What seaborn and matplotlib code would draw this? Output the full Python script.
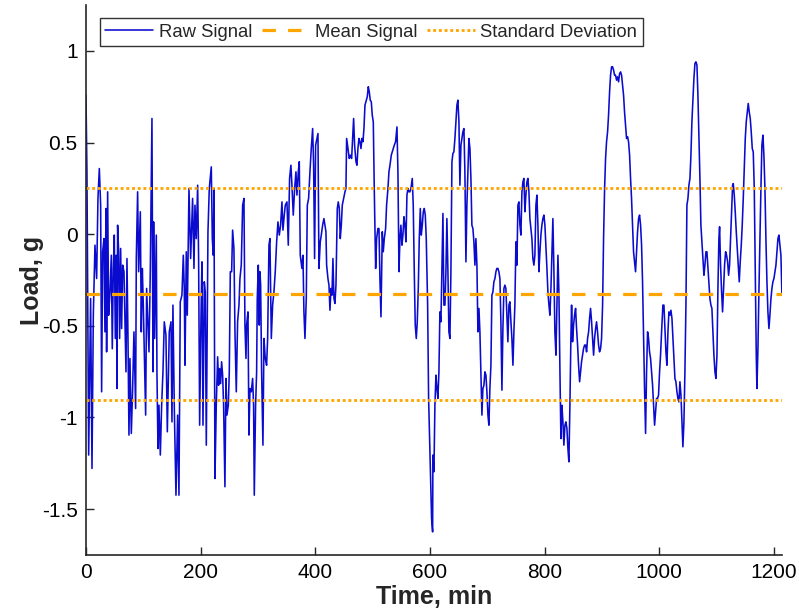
import matplotlib
matplotlib.use("Agg")
import matplotlib.pyplot as plt
import seaborn as sns
import pandas as pd

# ---- data ----
time_min = [
    0, 1.7, 4.7, 8.1, 10.5, 12.8, 15.7, 18.6, 20.9, 23.3, 25.6, 27.3, 29.1, 31.4, 33.1, 34.9, 36.0, 37.8, 39.5, 41.9,
    44.2, 45.9, 47.7, 49.4, 51.2, 52.9, 54.1, 55.2, 57.0, 58.7, 60.5, 62.2, 64.0, 66.3, 69.8, 71.5, 73.3, 75.0, 76.7, 79.1,
    81.4, 83.7, 86.6, 87.8, 90.1, 91.9, 94.8, 96.5, 98.3, 100.0, 104.1, 105.8, 108.1, 109.9, 112.2, 115.1, 116.9, 118.0, 119.8, 122.7,
    123.8, 125.6, 127.3, 129.7, 132.0, 134.3, 136.6, 139.5, 141.9, 145.3, 148.3, 150.0, 151.7, 154.1, 157.0, 159.9, 162.2, 164.5, 167.4, 169.8,
    171.5, 172.7, 175.0, 176.7, 179.7, 182.6, 186.0, 188.4, 190.1, 192.4, 194.8, 196.5, 198.3, 200.6, 202.3,
    204.1, 206.4, 208.1, 209.9, 212.8, 215.1, 218.6, 220.4, 222.1, 223.3, 225.0, 227.3, 229.7, 231.4, 233.1, 234.9, 236.6, 238.4, 240.1, 242.4,
    244.2, 245.9, 248.3, 250.0, 251.8, 254.1, 255.8, 258.1, 259.9, 262.2, 264.5, 266.9, 268.6, 270.9, 273.3, 275.6, 277.3, 279.1, 280.2, 282.6,
    284.3, 286.1, 288.4, 290.7, 292.4, 293.6, 295.9, 297.7, 298.8, 300.6, 302.3, 303.5, 304.7, 306.4, 308.7, 310.5, 312.8, 315.1, 316.9, 319.2,
    320.9, 323.3, 325.6, 327.9, 330.2, 332.6, 334.9, 337.2, 339.5, 341.9, 343.6, 345.9, 347.7, 350.6, 352.9, 355.2, 357.5, 359.3, 361.6, 364.0,
    366.3, 368.0, 370.4, 372.1, 373.8, 376.7, 378.5, 380.2, 382.0, 384.3, 386.1, 388.4, 390.7, 393.0, 395.4, 397.1, 398.8, 400.6, 402.9,
    404.7, 406.4, 408.7, 410.5, 412.8, 415.1, 416.9, 418.6, 419.8, 422.1, 423.9, 425.6, 427.4, 429.1, 430.8, 432.6, 434.3, 436.1, 438.4, 440.1,
    441.9, 443.6, 445.4, 447.1, 449.4, 451.8, 453.5, 454.7, 457.0, 459.3, 461.1, 463.4, 465.1, 466.9, 468.6, 471.0, 472.7, 474.4, 476.2, 477.9,
    479.7, 481.4, 483.2, 484.9, 486.7, 489.0, 490.7, 492.5, 494.2, 495.9, 497.7, 499.4, 501.2, 502.9, 505.3, 507.0, 509.3, 511.1, 512.8, 514.6,
    516.9, 518.6, 520.4, 522.7, 524.4, 526.8, 528.5, 530.3, 532.6, 534.3, 536.1, 537.8, 540.1, 542.5, 544.2, 546.0, 547.7, 549.4, 551.2, 552.9,
    554.7, 556.4, 558.2, 559.9, 561.6, 563.4, 565.1, 566.9, 569.2, 570.9, 572.7, 574.4, 576.2, 577.9, 579.7, 581.4, 583.2, 584.9, 586.7, 588.4,
    590.1, 591.9, 593.6, 596.0, 597.7, 599.4, 601.2, 602.9, 604.7,
    605.2, 607.0, 608.7, 610.5, 612.2, 613.9, 615.7, 617.4, 619.2, 620.9, 622.7, 624.4, 626.2, 627.9, 629.6, 631.4, 633.1, 634.9, 636.6, 638.4,
    640.1, 641.8, 643.6, 645.3, 647.1, 648.8, 650.6, 652.3, 654.1, 655.8, 657.5, 659.3, 661.0, 662.8, 664.5, 666.3, 668.0, 669.8, 671.5, 673.2,
    675.0, 676.7, 678.5, 680.2, 682.0, 683.7, 685.5, 687.2, 688.9, 690.7, 692.4, 694.2, 695.9, 697.7, 699.4, 701.2, 702.9, 704.6, 706.4, 708.1,
    709.9, 711.6, 713.4, 715.1, 716.8, 718.6, 720.3, 722.1, 723.8, 725.6, 727.3, 729.1, 730.8, 732.5, 734.3, 736.0, 737.8, 739.5, 741.3, 743.0,
    744.8, 746.5, 748.2, 750.0, 751.7, 753.5, 755.2, 757.0, 758.7, 760.5, 762.2, 763.9, 765.7, 767.4, 769.2, 770.9, 772.7, 774.4, 776.2, 777.9,
    779.6, 781.4, 783.1, 784.9, 786.6, 788.4, 790.1, 791.9, 793.6, 795.3, 797.1, 798.8, 800.6, 802.3, 804.1, 805.8,
    807.6, 809.3, 811.1, 812.8, 814.5, 816.3, 818.0, 819.8, 821.5, 823.3, 825.0, 826.8, 828.5, 830.2, 832.0, 833.7, 835.5, 837.2, 839.0, 840.7,
    842.4, 844.2, 845.9, 847.1, 848.8, 850.6, 852.3, 854.1, 855.8, 857.6, 859.3, 861.1, 862.8, 864.5, 866.3, 868.0, 869.8, 871.5, 873.3, 875.0,
    876.8, 878.5, 880.2, 882.0, 883.7, 885.5, 887.2, 889.0, 890.7, 892.4, 894.2, 895.9, 897.7, 899.4, 901.2, 902.9, 904.7, 906.4, 908.1, 909.9,
    911.6, 913.4, 915.1, 916.9, 918.6, 920.4, 922.1, 923.8, 925.6, 927.3, 929.1, 930.8, 932.6, 934.3, 936.1, 937.8, 939.5, 941.3, 943.0, 944.8,
    946.5, 948.3, 950.0, 951.7, 953.5, 955.2, 957.0, 958.7, 960.5, 962.2, 964.0, 965.7, 967.5, 969.2, 970.9, 972.7, 974.4, 976.2, 977.9, 979.7,
    981.4, 983.1, 984.9, 986.6, 988.4, 990.1, 991.9, 993.6, 995.4, 997.1, 998.8, 1000.6, 1002.3, 1004.1, 1006.4,
    1008.2, 1010.0, 1011.7, 1013.4, 1015.2, 1016.9, 1018.7, 1020.4, 1022.2, 1023.9, 1025.7, 1027.4, 1029.1, 1030.9, 1032.6, 1034.4, 1036.1, 1037.9, 1039.6, 1041.3,
    1043.1, 1044.8, 1046.6, 1048.3, 1050.1, 1051.8, 1053.6, 1055.3, 1057.0, 1058.8, 1060.5, 1062.3, 1064.0, 1065.8, 1067.5, 1069.3, 1071.0, 1072.7, 1074.5, 1076.2,
    1078.0, 1079.7, 1081.5, 1083.2, 1085.0, 1086.7, 1088.4, 1090.2, 1091.9, 1093.7, 1095.4, 1097.2, 1098.9, 1100.7, 1102.4, 1104.1, 1105.3, 1107.0, 1108.8, 1110.5,
    1112.3, 1114.0, 1115.8, 1117.5, 1119.3, 1121.0, 1122.7, 1124.5, 1126.2, 1128.0, 1129.1, 1130.9, 1132.6, 1134.4, 1136.1, 1137.9, 1139.6, 1141.3, 1143.1, 1144.8,
    1146.6, 1148.3, 1150.1, 1151.8, 1153.6, 1155.3, 1157.0, 1158.8, 1160.5, 1162.3, 1164.0, 1165.8, 1167.5, 1169.3, 1170.4, 1172.2, 1173.9, 1175.7, 1177.4, 1179.1,
    1180.9, 1182.6, 1184.4, 1186.1, 1187.9, 1189.6, 1191.4, 1193.1, 1194.9, 1196.6, 1198.3, 1200.1, 1201.8, 1203.6, 1205.3, 1207.1, 1208.8, 1210.6, 1212.3, 1214.0,
]

load_g = [
    0.758, 0.34, -1.205, -0.351, -1.278, -0.442, -0.06, -0.242, 0.195, 0.358, 0.158, -0.86, -0.096, -0.024, -0.533, 0.14, -0.642, 0.231, -0.442, -0.315,
    -0.115, -0.625, -0.187, -0.005, -0.569, -0.115, -0.842, 0.049, -0.096, -0.569, -0.078, -0.515, -0.169, -0.205, -0.751, -0.133, -0.569, -1.096, -0.678, -1.087,
    -0.842, -0.533, -0.951, -0.133, 0.231, -0.205, 0.122, -0.533, -0.187, -0.387, -0.987, -0.296, -0.496, -0.642, -0.205, 0.631, -0.751, 0.067, -0.569, -0.005,
    -0.751, -1.169, -0.933, -1.205, -0.933, -0.751, -0.478, -0.551, -1.078, -0.533, -0.478, -1.024, -0.387, -0.951, -1.424, -0.987, -1.424, -0.369, -0.333, -0.115,
    -0.296, -0.715, -0.096, -0.442, 0.249, -0.133, 0.195, -0.187, 0.158, -0.024, 0.267, -0.133, -1.042, -0.46, -0.151,
    -1.042, -0.26, -0.315, -1.151, 0.013, 0.249, 0.367, -0.024, -0.115, 0.249, -1.333, -0.933, -0.669, -0.824, -0.733, -0.815, -0.696, -0.769, -0.933, -1.378,
    -0.787, -0.987, -0.933, -0.751, -0.205, -0.205, 0.022, -0.078, -0.533, -0.86, -0.478, -0.387, -0.242, -0.169, 0.158, 0.195, -0.496, -0.678, -0.496, -0.424,
    -1.096, -0.842, -0.86, -0.787, -0.933, -1.424, -0.933, -0.751, -0.351, -0.169, -0.496, -0.205, -0.278, -0.751, -1.151, -0.569, -0.678, -0.715, -0.569, -0.06,
    -0.024, -0.569, -0.387, -0.315, -0.205, -0.042, 0.067, -0.005, 0.049, 0.176, 0.022, 0.104, 0.158, 0.176, -0.06, 0.304, 0.376, 0.267, 0.104, 0.249,
    0.34, 0.213, 0.34, 0.395, -0.115, -0.187, -0.115, -0.424, -0.569, -0.351, 0.158, 0.195, 0.34, 0.467, 0.576, 0.376, -0.133, 0.485, 0.522,
    0.549, -0.187, -0.042, -0.005, 0.049, 0.085, 0.049, 0.013, -0.169, -0.242, -0.278, -0.415, -0.296, -0.333, -0.133, -0.351, -0.378, -0.278, 0.14, 0.176,
    0.14, -0.024, 0.049, 0.158, 0.195, 0.231, 0.249, 0.522, 0.467, 0.413, 0.431, 0.413, 0.522, 0.631, 0.485, 0.395, 0.376, 0.467, 0.522, 0.504,
    0.467, 0.522, 0.504, 0.576, 0.704, 0.731, 0.749, 0.804, 0.776, 0.731, 0.722, 0.649, 0.613, 0.249, -0.187, -0.024, 0.031, 0.031, -0.242, -0.451,
    0.013, -0.096, -0.024, 0.031, 0.158, 0.249, 0.34, 0.376, 0.431, 0.449, 0.467, 0.485, 0.504, 0.585, 0.34, -0.205, -0.024, 0.049, -0.06, -0.005,
    0.095, 0.049, -0.042, 0.213, 0.249, 0.231, 0.231, 0.249, 0.304, 0.158, -0.205, -0.496, -0.569, -0.478, -0.296, -0.024, 0.14, -0.005, 0.049, 0.122,
    0.14, 0.104, -0.024, -0.387, -0.896, -1.115, -1.333, -1.551, -1.624,
    -1.205, -1.296, -0.933, -0.769, -0.842, -0.896, -0.751, -0.424, -0.478, -0.205, 0.113, -0.387, -0.387, -0.205, 0.085, -0.205, -0.533, -0.569, -0.205, 0.395,
    0.44, 0.449, 0.522, 0.613, 0.704, 0.731, 0.613, 0.267, 0.485, 0.522, 0.558, 0.576, 0.34, -0.151, 0.158, 0.34, 0.522, 0.467, 0.304, 0.049,
    0.031, -0.042, -0.169, -0.024, -0.169, -0.533, -0.405, -0.533, -0.751, -0.987, -0.842, -0.824, -0.751, -0.769, -0.86, -0.987, -1.042, -0.842, -0.715, -0.333,
    -0.315, -0.26, -0.242, -0.205, -0.187, -0.187, -0.205, -0.242, -0.478, -0.851, -0.515, -0.296, -0.278, -0.296, -0.442, -0.587, -0.387, -0.369, -0.478, -0.569,
    -0.715, -0.533, -0.387, -0.042, -0.169, 0.158, 0.176, 0.049, -0.005, 0.231, 0.285, 0.304, 0.122, 0.213, 0.285, 0.304, 0.231, 0.085, 0.031, -0.024,
    -0.133, -0.169, -0.115, 0.158, 0.213, 0.049, -0.205, -0.096, -0.005, 0.049, 0.085, 0.104, 0.049, -0.06, -0.187, -0.315,
    -0.387, -0.442, -0.296, -0.096, 0.085, -0.205, -0.533, -0.66, -0.387, -0.115, -0.315, -0.751, -1.115, -0.933, -1.024, -1.151, -1.042, -1.024, -1.06, -1.169,
    -1.242, -0.933, -0.569, -0.387, -0.587, -0.496, -0.442, -0.405, -0.515, -0.605, -0.715, -0.805, -0.751, -0.696, -0.66, -0.624, -0.605, -0.605, -0.642, -0.569,
    -0.533, -0.46, -0.405, -0.478, -0.569, -0.66, -0.569, -0.515, -0.478, -0.533, -0.605, -0.642, -0.624, -0.569, -0.387, -0.024, 0.249, 0.413, 0.504, 0.558,
    0.649, 0.776, 0.867, 0.913, 0.913, 0.895, 0.867, 0.867, 0.84, 0.858, 0.831, 0.876, 0.885, 0.867, 0.813, 0.758, 0.667, 0.595, 0.522, 0.531,
    0.504, 0.431, 0.304, 0.195, 0.049, -0.096, -0.151, -0.205, -0.096, 0.013, 0.085, 0.104, 0.049, -0.06, -0.26, -0.569, -0.842, -1.087, -0.751, -0.533,
    -0.569, -0.642, -0.678, -0.751, -0.824, -0.933, -1.042, -0.969, -0.896, -0.896, -0.878, -0.751, -0.66, -0.533, -0.387,
    -0.387, -0.515, -0.642, -0.715, -0.533, -0.424, -0.442, -0.415, -0.46, -0.569, -0.678, -0.787, -0.805, -0.86, -0.896, -0.915, -0.805, -0.878, -1.024, -1.16,
    -1.024, -0.751, -0.387, 0.158, 0.195, 0.267, 0.304, 0.431, 0.613, 0.74, 0.849, 0.931, 0.94, 0.922, 0.758, 0.522, 0.304, 0.049, -0.042, -0.133,
    -0.224, -0.169, -0.096, -0.096, -0.187, -0.278, -0.351, -0.387, -0.405, -0.533, -0.66, -0.751, -0.787, -0.66, -0.296, -0.024, 0.04, -0.169, -0.315, -0.424,
    -0.296, -0.169, -0.096, -0.115, -0.151, -0.224, -0.169, -0.024, 0.122, 0.267, 0.276, 0.213, 0.122, 0.013, -0.078, -0.169, -0.26, -0.151, -0.06, 0.049,
    0.195, 0.358, 0.522, 0.613, 0.667, 0.713, 0.667, 0.631, 0.558, 0.467, 0.449, 0.249, -0.205, -0.66, -0.842, -0.624, -0.315, -0.024, 0.249, 0.485,
    0.54, 0.431, 0.249, -0.024, -0.26, -0.424, -0.515, -0.442, -0.351, -0.296, -0.26, -0.242, -0.205, -0.169, -0.096, -0.024, -0.005, -0.06, -0.115, -0.324,
]

mean_signal = -0.327
std_signal = 0.579

x_ticks = [0, 200, 400, 600, 800, 1000, 1200]
y_ticks = [-1.5, -1, -0.5, 0, 0.5, 1]
y_tick_labels = ["-1.5", "-1", "-0.5", "0", "0.5", "1"]

# ---- plotting ----
sns.set_theme(style="ticks")
plt.rcParams["font.family"] = ["Liberation Sans", "DejaVu Sans"]

fig = plt.figure(figsize=(7.99, 6.11), dpi=100)
ax = fig.add_axes([0.1076, 0.0917, 0.871, 0.9001])

df = pd.DataFrame({"Time": time_min, "Load": load_g})
sns.lineplot(data=df, x="Time", y="Load", ax=ax, color="#0b0bcf", linewidth=1.15,
             sort=False, estimator=None, label="Raw Signal")

t0, t1 = time_min[0], time_min[-1]
lines = pd.DataFrame({"Time": [t0, t1], "Mean": [mean_signal] * 2,
                      "Up": [mean_signal + std_signal] * 2,
                      "Lo": [mean_signal - std_signal] * 2})
sns.lineplot(data=lines, x="Time", y="Mean", ax=ax, color="#ffa500", linewidth=2.3,
             label="Mean Signal")
ax.lines[-1].set_dashes((4.2, 3.8))
sns.lineplot(data=lines, x="Time", y="Up", ax=ax, color="#ffa500", linewidth=2.0,
             label="Standard Deviation")
ax.lines[-1].set_dashes((1.05, 1.0))
sns.lineplot(data=lines, x="Time", y="Lo", ax=ax, color="#ffa500", linewidth=2.0)
ax.lines[-1].set_dashes((1.05, 1.0))
for ln in ax.lines:
    ln.set_dash_capstyle("butt")

ax.set_xlim(0, 1214)
ax.set_ylim(-1.75, 1.25)
ax.set_xticks(x_ticks)
ax.set_xticklabels([str(v) for v in x_ticks])
ax.set_yticks(y_ticks)
ax.set_yticklabels(y_tick_labels)
ax.tick_params(direction="in", length=6, width=1, colors="#262626", labelsize=15,
               labelcolor="black", pad=6)
for s in ["top", "right"]:
    ax.spines[s].set_visible(False)
for s in ["left", "bottom"]:
    ax.spines[s].set_color("#262626")
    ax.spines[s].set_linewidth(1.2)

ax.set_xlabel("Time, min", fontsize=18, fontweight="bold",
              family=["Liberation Sans Narrow", "Liberation Sans"], labelpad=2)
ax.set_ylabel("Load, g", fontsize=18, fontweight="bold",
              family=["Liberation Sans Narrow", "Liberation Sans"], labelpad=-2)

leg = ax.legend(loc="upper left", bbox_to_anchor=(0.02, 0.976), ncol=3, fontsize=13.3,
                frameon=True, fancybox=False, edgecolor="black", borderaxespad=0,
                handlelength=2.6, columnspacing=0.5, handletextpad=0.3,
                borderpad=0.3)
leg.get_frame().set_linewidth(1.0)

fig.savefig("out.png", dpi=100)
